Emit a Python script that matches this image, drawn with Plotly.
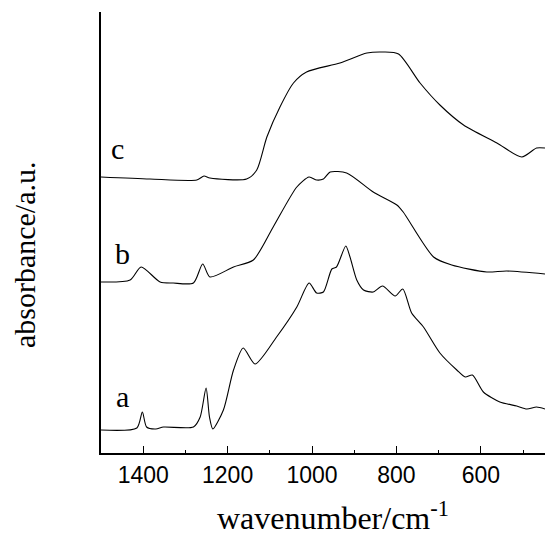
import plotly.graph_objects as go

# Spectrum a
wn_a = [1500, 1415, 1402, 1392, 1370, 1352, 1281, 1265, 1251, 1243, 1235, 1210, 1186, 1163, 1135,
        1084, 1036, 1007, 989, 973, 953, 942, 920, 910, 894, 878, 855, 833, 803, 785, 764, 736,
        697, 657, 637, 620, 594, 555, 515, 491, 468, 448]
abs_a = [0.23, 0.25, 0.41, 0.26, 0.24, 0.26, 0.26, 0.36, 0.65, 0.36, 0.24, 0.43, 0.83, 1.05, 0.89,
         1.16, 1.46, 1.70, 1.60, 1.61, 1.84, 1.86, 2.07, 1.96, 1.73, 1.63, 1.61, 1.67, 1.57, 1.64, 1.40, 1.26,
         1.00, 0.83, 0.76, 0.78, 0.61, 0.51, 0.47, 0.44, 0.46, 0.44]

# Spectrum b
wn_b = [1500, 1431, 1405, 1360, 1329, 1281, 1259, 1242, 1186, 1139, 1092, 1036, 1007, 989, 973,
        957, 918, 855, 799, 784, 712, 669, 586, 539, 448]
abs_b = [1.71, 1.73, 1.86, 1.71, 1.70, 1.70, 1.89, 1.76, 1.86, 1.93, 2.26, 2.66, 2.76, 2.73, 2.74,
         2.81, 2.80, 2.61, 2.48, 2.41, 1.96, 1.88, 1.81, 1.82, 1.79]

# Spectrum c
wn_c = [1500, 1384, 1273, 1256, 1242, 1155, 1131, 1107, 1076, 1044, 1013, 934, 870, 831, 795,
        744, 697, 641, 562, 503, 468, 448]
abs_c = [2.76, 2.74, 2.73, 2.77, 2.75, 2.74, 2.83, 3.16, 3.46, 3.70, 3.81, 3.90, 4.00, 4.01, 3.99,
         3.70, 3.48, 3.28, 3.10, 2.96, 3.05, 3.05]

labels = ["a", "b", "c"]
label_pos = [(1450, 0.57), (1450, 2.00), (1462, 3.05)]

fig = go.Figure()
for wn, ab, name in [(wn_a, abs_a, "a"), (wn_b, abs_b, "b"), (wn_c, abs_c, "c")]:
    fig.add_trace(go.Scatter(x=wn, y=ab, mode="lines", name=name,
                             line=dict(color="black", width=1.1, shape="spline", smoothing=0.7),
                             showlegend=False, hoverinfo="skip"))

for lab, (lx, ly) in zip(labels, label_pos):
    fig.add_annotation(x=lx, y=ly, text=lab, showarrow=False, xanchor="center", yanchor="middle",
                       font=dict(family="Liberation Serif", size=30, color="black"))

fig.add_annotation(xref="paper", yref="paper", x=0.5225, y=-0.143, text="wavenumber/cm<sup>-1</sup>",
                   showarrow=False, xanchor="center", yanchor="middle",
                   font=dict(family="Liberation Serif", size=32, color="black"))
fig.add_annotation(xref="paper", yref="paper", x=-0.171, y=0.449, text="absorbance/a.u.",
                   showarrow=False, xanchor="center", yanchor="middle", textangle=-90,
                   font=dict(family="Liberation Serif", size=30, color="black"))

fig.update_layout(
    width=545, height=538,
    margin=dict(l=101, r=0, t=12, b=85),
    paper_bgcolor="white", plot_bgcolor="white",
    xaxis=dict(range=[1500, 448], showline=True, linecolor="black", linewidth=2,
               ticks="inside", ticklen=7, tickwidth=1, tickcolor="black",
               tick0=0, dtick=200, showgrid=False, zeroline=False,
               tickfont=dict(family="Liberation Sans", size=23, color="black"),
               minor=dict(ticks="inside", ticklen=3, tick0=0, dtick=100, tickcolor="black", showgrid=False)),
    yaxis=dict(range=[0, 4.41], showline=True, linecolor="black", linewidth=2,
               ticks="", showticklabels=False, showgrid=False, zeroline=False),
)

fig.write_html("out.html", config={"displayModeBar": False},
               post_script="document.body.style.margin='0px';document.body.style.overflow='hidden';")
